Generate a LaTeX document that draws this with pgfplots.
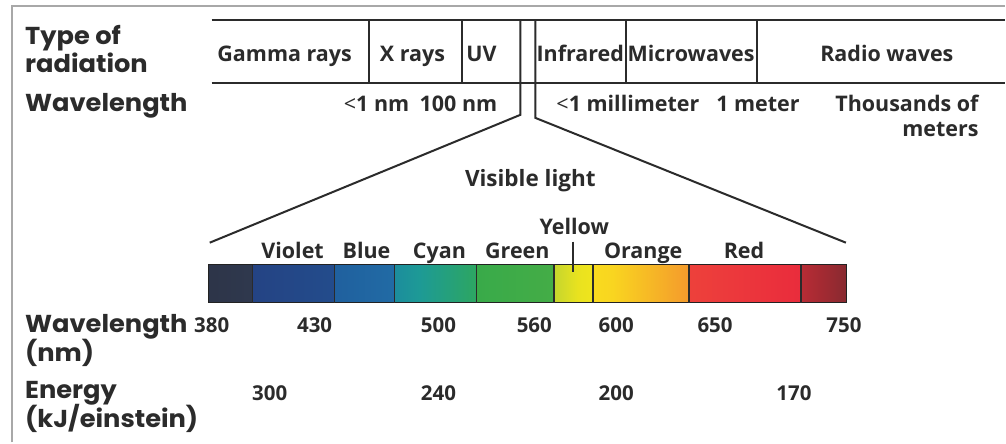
\documentclass[border=0pt]{standalone}
\usepackage{fontspec}
\setmainfont{Open Sans}
\newfontfamily\hdr[FakeStretch=1.05]{Poppins}
\usepackage{pgfplots}
\pgfplotsset{compat=1.18}
\definecolor{ink}{HTML}{2B2B2B}
\definecolor{frame}{HTML}{A8A8A8}
\definecolor{a1}{RGB}{44,51,70}\definecolor{a2}{RGB}{48,58,80}
\definecolor{b1}{RGB}{36,63,128}\definecolor{b2}{RGB}{35,80,143}
\definecolor{c1}{RGB}{31,91,155}\definecolor{c2}{RGB}{34,112,168}
\definecolor{d1}{RGB}{26,118,168}\definecolor{d2}{RGB}{29,154,150}\definecolor{d3}{RGB}{47,168,90}\definecolor{d4}{RGB}{53,170,72}
\definecolor{e1}{RGB}{51,169,75}\definecolor{e2}{RGB}{74,174,69}
\definecolor{f1}{RGB}{168,204,58}\definecolor{f2}{RGB}{233,226,31}\definecolor{f3}{RGB}{248,232,28}
\definecolor{g1}{RGB}{251,232,26}\definecolor{g2}{RGB}{249,213,32}\definecolor{g3}{RGB}{244,154,44}\definecolor{g4}{RGB}{240,106,49}
\definecolor{h1}{RGB}{239,75,59}\definecolor{h2}{RGB}{234,46,60}\definecolor{h3}{RGB}{227,37,57}
\definecolor{i1}{RGB}{207,46,56}\definecolor{i2}{RGB}{162,42,50}\definecolor{i3}{RGB}{110,42,46}
\pgfdeclarehorizontalshading{sA}{100bp}{color(0bp)=(a1); color(100bp)=(a2)}
\pgfdeclarehorizontalshading{sB}{100bp}{color(0bp)=(b1); color(100bp)=(b2)}
\pgfdeclarehorizontalshading{sC}{100bp}{color(0bp)=(c1); color(100bp)=(c2)}
\pgfdeclarehorizontalshading{sD}{100bp}{color(0bp)=(d1); color(40bp)=(d2); color(80bp)=(d3); color(100bp)=(d4)}
\pgfdeclarehorizontalshading{sE}{100bp}{color(0bp)=(e1); color(100bp)=(e2)}
\pgfdeclarehorizontalshading{sF}{100bp}{color(0bp)=(f1); color(55bp)=(f2); color(100bp)=(f3)}
\pgfdeclarehorizontalshading{sG}{100bp}{color(0bp)=(g1); color(35bp)=(g2); color(75bp)=(g3); color(100bp)=(g4)}
\pgfdeclarehorizontalshading{sH}{100bp}{color(0bp)=(h1); color(70bp)=(h2); color(100bp)=(h3)}
\pgfdeclarehorizontalshading{sI}{100bp}{color(0bp)=(i1); color(50bp)=(i2); color(100bp)=(i3)}
\newcommand{\hfs}{\hdr\bfseries\fontsize{24.5}{28}\selectfont}
\newcommand{\lfs}{\bfseries\fontsize{21.5}{25}\selectfont}
\newcommand{\vfs}{\bfseries\fontsize{22.5}{26}\selectfont}
\newcommand{\nfs}{\bfseries\fontsize{20.5}{24}\selectfont}
\begin{document}
\begin{tikzpicture}
\begin{axis}[
  scale only axis, width=1006pt, height=443pt,
  xmin=0, xmax=1006, ymin=0, ymax=443, y dir=reverse,
  hide axis, clip=false,
]
\fill[white] (axis cs:0,0) rectangle (axis cs:1006,443);
% frame
\addplot[frame, line width=2pt] coordinates {(12.5,443) (12.5,6) (1006,6)};
% table
\addplot[ink, line width=2.6pt] coordinates {(212,20) (1006,20)};
\addplot[ink, line width=2.6pt] coordinates {(212,83) (1006,83)};
\addplot[ink, line width=2pt] coordinates {(369,20) (369,83)};
\addplot[ink, line width=2pt] coordinates {(463,20) (463,83)};
\addplot[ink, line width=2pt] coordinates {(627,20) (627,83)};
\addplot[ink, line width=2pt] coordinates {(758,20) (758,83)};
% funnel
\addplot[ink, line width=2pt] coordinates {(521,20) (521,115) (210,243)};
\addplot[ink, line width=2pt] coordinates {(536,20) (536,118) (847,243)};
% colour bar
\addplot[draw=none, shade, shading=sA] coordinates {(209,265) (253,265) (253,303) (209,303)} -- cycle;
\addplot[draw=none, shade, shading=sB] coordinates {(253,265) (335,265) (335,303) (253,303)} -- cycle;
\addplot[draw=none, shade, shading=sC] coordinates {(335,265) (395,265) (395,303) (335,303)} -- cycle;
\addplot[draw=none, shade, shading=sD] coordinates {(395,265) (477,265) (477,303) (395,303)} -- cycle;
\addplot[draw=none, shade, shading=sE] coordinates {(477,265) (555,265) (555,303) (477,303)} -- cycle;
\addplot[draw=none, shade, shading=sF] coordinates {(555,265) (594,265) (594,303) (555,303)} -- cycle;
\addplot[draw=none, shade, shading=sG] coordinates {(594,265) (690,265) (690,303) (594,303)} -- cycle;
\addplot[draw=none, shade, shading=sH] coordinates {(690,265) (802,265) (802,303) (690,303)} -- cycle;
\addplot[draw=none, shade, shading=sI] coordinates {(802,265) (847,265) (847,303) (802,303)} -- cycle;
\addplot[ink!80!black, line width=0.8pt] coordinates {(209,265) (847,265) (847,303) (209,303)} -- cycle;
\addplot[ink, line width=1.6pt] coordinates {(253,265) (253,303)};
\addplot[ink, line width=1.6pt] coordinates {(335,265) (335,303)};
\addplot[ink, line width=1.6pt] coordinates {(395,265) (395,303)};
\addplot[ink, line width=1.6pt] coordinates {(477,265) (477,303)};
\addplot[ink, line width=1.6pt] coordinates {(555,265) (555,303)};
\addplot[ink, line width=1.6pt] coordinates {(594,265) (594,303)};
\addplot[ink, line width=1.6pt] coordinates {(690,265) (690,303)};
\addplot[ink, line width=1.6pt] coordinates {(802,265) (802,303)};
% yellow tick
\addplot[ink, line width=1.6pt] coordinates {(574,242) (574,272)};
% left headers
\node[anchor=base west, text=ink, inner sep=0pt] at (axis cs:25,45) {\hfs Type of};
\node[anchor=base west, text=ink, inner sep=0pt] at (axis cs:25,73) {\hfs radiation};
\node[anchor=base west, text=ink, inner sep=0pt] at (axis cs:25,112) {\hfs Wavelength};
\node[anchor=base west, text=ink, inner sep=0pt] at (axis cs:25,333) {\hfs Wavelength};
\node[anchor=base west, text=ink, inner sep=0pt] at (axis cs:25,362) {\hfs (nm)};
\node[anchor=base west, text=ink, inner sep=0pt] at (axis cs:25,399) {\hfs Energy};
\node[anchor=base west, text=ink, inner sep=0pt] at (axis cs:25,428) {\hfs (kJ/einstein)};
% table labels
\node[anchor=base, text=ink, inner sep=0pt] at (axis cs:285,62) {\lfs Gamma rays};
\node[anchor=base, text=ink, inner sep=0pt] at (axis cs:413,62) {\lfs X rays};
\node[anchor=base, text=ink, inner sep=0pt] at (axis cs:482,62) {\lfs UV};
\node[anchor=base, text=ink, inner sep=0pt] at (axis cs:581,62) {\lfs Infrared};
\node[anchor=base, text=ink, inner sep=0pt] at (axis cs:692,62) {\lfs Microwaves};
\node[anchor=base, text=ink, inner sep=0pt] at (axis cs:888,62) {\lfs Radio waves};
% wavelength row
\node[anchor=base east, text=ink, inner sep=0pt] at (axis cs:410,112) {\lfs {\mdseries<}1 nm};
\node[anchor=base west, text=ink, inner sep=0pt] at (axis cs:420,112) {\lfs 100 nm};
\node[anchor=base west, text=ink, inner sep=0pt] at (axis cs:557,112) {\lfs {\mdseries<}1 millimeter};
\node[anchor=base west, text=ink, inner sep=0pt] at (axis cs:717,112) {\lfs 1 meter};
\node[anchor=base east, text=ink, inner sep=0pt] at (axis cs:980,112) {\lfs Thousands of};
\node[anchor=base east, text=ink, inner sep=0pt] at (axis cs:980,137) {\lfs meters};
% visible
\node[anchor=base, text=ink, inner sep=0pt] at (axis cs:531,187) {\vfs Visible light};
\node[anchor=base, text=ink, inner sep=0pt] at (axis cs:575,235) {\lfs Yellow};
\node[anchor=base, text=ink, inner sep=0pt] at (axis cs:293,259) {\lfs Violet};
\node[anchor=base, text=ink, inner sep=0pt] at (axis cs:367,259) {\lfs Blue};
\node[anchor=base, text=ink, inner sep=0pt] at (axis cs:440,259) {\lfs Cyan};
\node[anchor=base, text=ink, inner sep=0pt] at (axis cs:518,259) {\lfs Green};
\node[anchor=base, text=ink, inner sep=0pt] at (axis cs:644,259) {\lfs Orange};
\node[anchor=base, text=ink, inner sep=0pt] at (axis cs:745,259) {\lfs Red};
% numbers
\node[anchor=base, text=ink, inner sep=0pt] at (axis cs:212,333) {\nfs 380};
\node[anchor=base, text=ink, inner sep=0pt] at (axis cs:315,333) {\nfs 430};
\node[anchor=base, text=ink, inner sep=0pt] at (axis cs:439,333) {\nfs 500};
\node[anchor=base, text=ink, inner sep=0pt] at (axis cs:535,333) {\nfs 560};
\node[anchor=base, text=ink, inner sep=0pt] at (axis cs:617,333) {\nfs 600};
\node[anchor=base, text=ink, inner sep=0pt] at (axis cs:716,333) {\nfs 650};
\node[anchor=base, text=ink, inner sep=0pt] at (axis cs:845,333) {\nfs 750};
\node[anchor=base, text=ink, inner sep=0pt] at (axis cs:270,401) {\nfs 300};
\node[anchor=base, text=ink, inner sep=0pt] at (axis cs:439,401) {\nfs 240};
\node[anchor=base, text=ink, inner sep=0pt] at (axis cs:617,401) {\nfs 200};
\node[anchor=base, text=ink, inner sep=0pt] at (axis cs:795,401) {\nfs 170};
\end{axis}
\end{tikzpicture}
\end{document}
